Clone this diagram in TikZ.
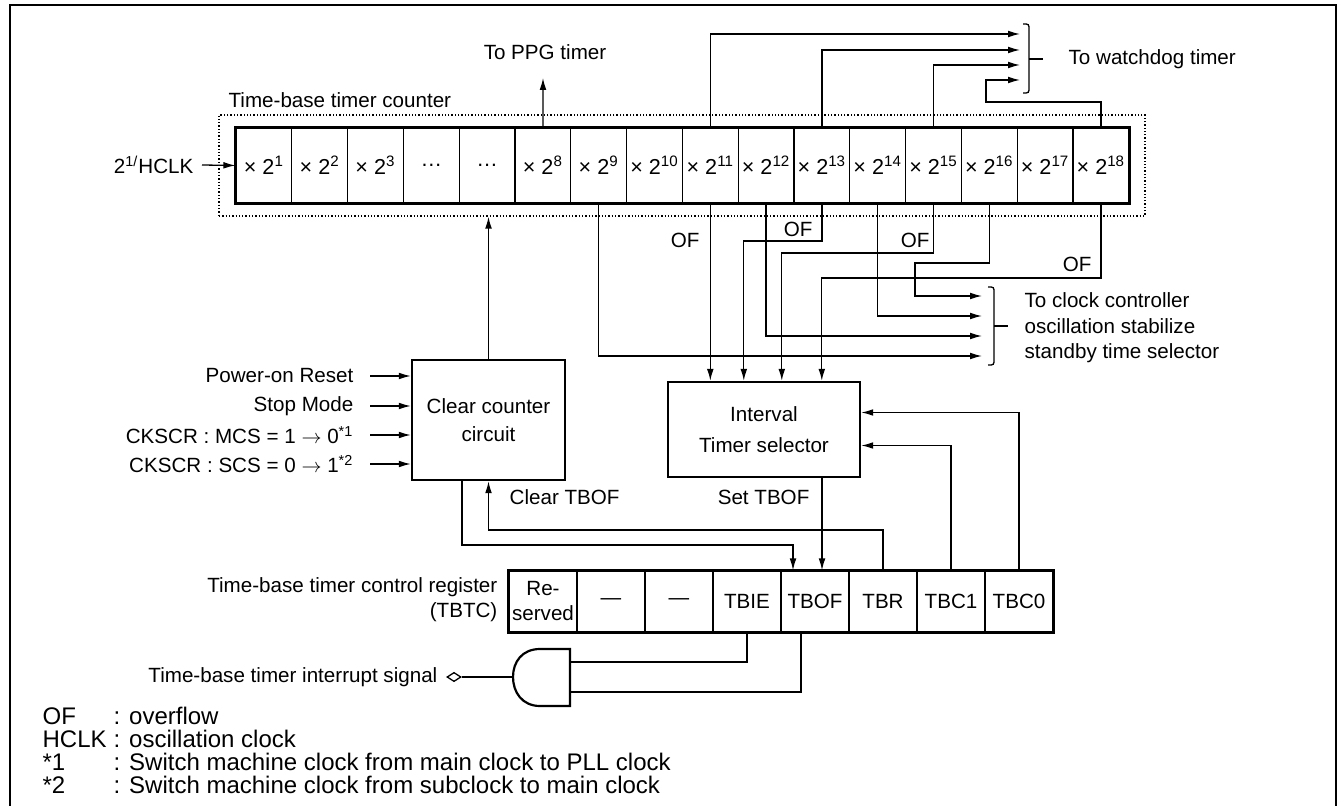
\documentclass[tikz,border=0pt]{standalone}
\usepackage{fontspec}
\setmainfont{Liberation Sans}
\usetikzlibrary{positioning,shapes.geometric,arrows.meta,calc}

\begin{document}
\begin{tikzpicture}[x=0.5pt,y=-0.5pt,font=\fontsize{10.3}{12.4}\selectfont,line width=0.65pt,>={Latex[length=6pt,width=3.4pt]}]
    \tikzstyle{cell} = [draw,inner sep=0pt,minimum width=27.9pt,minimum height=37.5pt,font=\fontsize{10.8}{13}\selectfont]
    \tikzstyle{regcell} = [draw,inner sep=0pt,align=center,minimum width=34pt,minimum height=30.5pt,font=\fontsize{10.3}{12.5}\selectfont]
    \tikzstyle{block} = [draw,line width=1.2pt,align=center,inner sep=0pt]
    \tikzstyle{txt} = [inner sep=1pt]
    \tikzstyle{legend} = [anchor=west,inner sep=0pt,font=\fontsize{12}{14}\selectfont]
    \tikzstyle{heavy} = [line width=1.3pt]
    \useasboundingbox (0,0) rectangle (1342,806);
    \draw[heavy] (10,830) -- (10,5) -- (1336,5) -- (1336,830);
    % time-base timer counter
    \node[draw,densely dotted,minimum width=463pt,minimum height=50.5pt] (tbc) at (682,165.5) {};
    \node[txt,anchor=west] (tbclabel) at (226,100) {Time-base timer counter};
    \foreach \t [count=\i] in {{×~2\textsuperscript{1}},{×~2\textsuperscript{2}},{×~2\textsuperscript{3}},…,…,{×~2\textsuperscript{8}},{×~2\textsuperscript{9}},{×~2\textsuperscript{10}},{×~2\textsuperscript{11}},{×~2\textsuperscript{12}},{×~2\textsuperscript{13}},{×~2\textsuperscript{14}},{×~2\textsuperscript{15}},{×~2\textsuperscript{16}},{×~2\textsuperscript{17}},{×~2\textsuperscript{18}}}
      \node[cell] (c\i) at (208.1+55.8*\i,165.5) {\t};
    \draw[heavy] (c1.north west) rectangle (c16.south east);
    \node[txt,anchor=east] (hclk) at (196,165) {2\textsuperscript{1/}HCLK};
    \draw[->] ([xshift=3pt]hclk.east) -- (c1.west);
    % to PPG timer
    \node[txt] (ppg) at (545,52) {To PPG timer};
    \coordinate (ppgtip) at (543,78);
    \draw[->] (c6.north) -- (ppgtip);
    % to watchdog timer
    \coordinate (wd1) at (1020,34);
    \coordinate (wd2) at (1020,50);
    \coordinate (wd3) at (1020,65);
    \coordinate (wd4) at (1020,80);
    \draw[->] (c9.north) |- (wd1);
    \draw[->] (c11.north) |- (wd2);
    \draw[->] (c13.north) |- (wd3);
    \draw[->] (c16.north) |- (986,102) |- (wd4);
    \draw (1023,24) .. controls (1029,24) .. (1029,30) -- (1029,87) .. controls (1029,93) .. (1023,93);
    \draw (1029,59) -- (1043,59);
    \node[txt,anchor=west] (wdt) at (1066,59) {To watchdog timer};
    % interval timer selector and clear counter circuit
    \node[block,minimum width=96pt,minimum height=47.5pt,font=\fontsize{10.3}{15.5}\selectfont] (its) at (764,429.5) {Interval\\Timer selector};
    \node[block,minimum width=76.5pt,minimum height=60pt,font=\fontsize{10.3}{14}\selectfont] (ccc) at (488.5,420) {Clear counter\\circuit};
    \coordinate (in2) at ($(its.north west)+(77,0)$);
    \coordinate (in3) at ($(its.north west)+(115,0)$);
    \coordinate (in4) at ($(its.north west)+(155,0)$);
    % to clock controller
    \coordinate (ck1) at (982,296);
    \coordinate (ck2) at (982,316);
    \coordinate (ck3) at (982,336);
    \coordinate (ck4) at (982,356);
    \draw[->] (c7.south) |- (ck4);
    \draw[->] (c9.south) -- (c9.south |- its.north);
    \draw[->] (c10.south) |- (ck3);
    \draw[->] (c11.south) |- (745,241) -| (in2);
    \draw[->] (c12.south) |- (ck2);
    \draw[->] (c13.south) |- (783,253) -| (in3);
    \draw[->] (c14.south) |- (915,263) |- (ck1);
    \draw[->] (c16.south) |- (823,278) -| (in4);
    \node[txt,anchor=east] (of1) at (702,240) {OF};
    \node[txt,anchor=east] (of2) at (815,229) {OF};
    \node[txt,anchor=east] (of3) at (932,240) {OF};
    \node[txt,anchor=east] (of4) at (1094,264) {OF};
    \draw (988,287) .. controls (994,287) .. (994,293) -- (994,359) .. controls (994,365) .. (988,365);
    \draw (994,326) -- (1008,326);
    \node[txt,anchor=west,align=left,font=\fontsize{10.3}{12.75}\selectfont] (clkctl) at (1022,328) {To clock controller\\oscillation stabilize\\standby time selector};
    % clear counter inputs
    \draw[->] (ccc.north) -- (ccc.north |- tbc.south);
    \node[txt,anchor=east] (por) at (356,376) {Power-on Reset};
    \node[txt,anchor=east] (stop) at (356,406) {Stop Mode};
    \node[txt,anchor=east] (mcs) at (356,435) {CKSCR : MCS = 1 $\rightarrow$ 0\textsuperscript{*1}};
    \node[txt,anchor=east] (scs) at (356,464) {CKSCR : SCS = 0 $\rightarrow$ 1\textsuperscript{*2}};
    \foreach \n in {por,stop,mcs,scs}
      \draw[->] ([xshift=7pt]\n.east) -- (\n.east -| ccc.west);
    % time-base timer control register
    \foreach \t [count=\i] in {{Re-\\served},—,—,TBIE,TBOF,TBR,TBC1,TBC0}
      \node[regcell] (r\i) at (475+68*\i,601.5) {\t};
    \draw[heavy] (r1.north west) rectangle (r8.south east);
    \node[txt,anchor=east,align=right,font=\fontsize{10.3}{12.5}\selectfont] (tbtc) at (500,600) {Time-base timer control register\\(TBTC)};
    \draw[->] (r8.north) |- ([yshift=8.5pt]its.east);
    \draw[->] (r7.north) |- ([yshift=-8pt]its.east);
    \coordinate (settbof) at ([xshift=29pt]its.south);
    \draw[->] (settbof) -- (settbof |- r5.north);
    \node[txt,anchor=east] (setlbl) at (812,497) {Set TBOF};
    \draw[->] (r6.north) |- (488.5,530) -- (ccc.south);
    \node[txt,anchor=west] (clrlbl) at (507,497) {Clear TBOF};
    \coordinate (clrout) at ([xshift=-13.25pt]ccc.south);
    \coordinate (tbofin) at ([xshift=-11pt]r5.north);
    \draw[->] (clrout) |- (793,545) -- (tbofin);
    % interrupt gate
    \draw[line width=1.1pt] (570,649) -- (540,649) .. controls (522,649) and (513,662) .. (513,677) .. controls (513,692) and (522,706) .. (540,706) -- (570,706) -- cycle;
    \coordinate (andout) at (513,677);
    \coordinate (andin1) at (570,662);
    \coordinate (andin2) at (570,692);
    \coordinate (tbofout) at ([xshift=-7pt]r5.south);
    \draw (r4.south) |- (andin1);
    \draw (tbofout) |- (andin2);
    \node[diamond,draw,fill=white,inner sep=0pt,minimum width=7pt,minimum height=4.6pt] (dia) at (454,677) {};
    \draw (andout) -- (dia.east);
    \node[txt,anchor=east] (irq) at (440,677) {Time-base timer interrupt signal};
    % legend
    \node[legend] (l1) at (42,716) {OF};
    \node[legend] (l1t) at (113,716) {: overflow};
    \node[legend] (l2) at (42,739) {HCLK};
    \node[legend] (l2t) at (113,739) {: oscillation clock};
    \node[legend] (l3) at (42,762) {*1};
    \node[legend] (l3t) at (113,762) {: Switch machine clock from main clock to PLL clock};
    \node[legend] (l4) at (42,785) {*2};
    \node[legend] (l4t) at (113,785) {: Switch machine clock from subclock to main clock};
\end{tikzpicture}
\end{document}
